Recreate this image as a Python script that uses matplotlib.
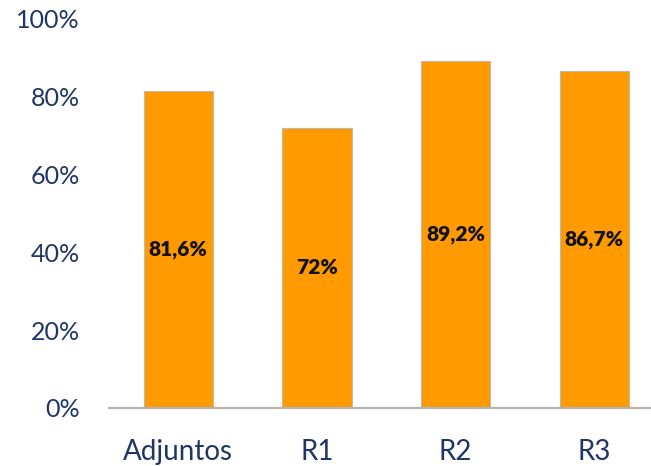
import matplotlib

matplotlib.use("Agg")
import matplotlib.pyplot as plt

categories = ["Adjuntos", "R1", "R2", "R3"]
values = [81.6, 72.0, 89.2, 86.7]
value_labels = ["81,6%", "72%", "89,2%", "86,7%"]
y_ticks = [0, 20, 40, 60, 80, 100]

BAR_COLOR = "#ff9a00"
NAVY = "#1f3566"

plt.rcParams["font.family"] = ["Lato", "DejaVu Sans"]

fig = plt.figure(figsize=(6.51, 4.66), dpi=100)
ax = fig.add_axes([0.1674, 0.1245, 0.852, 0.8348])

x = range(len(categories))
ax.bar(x, values, width=0.5, color=BAR_COLOR, edgecolor="#c0b8a8", linewidth=0.8, zorder=2)

for xi, v, lab in zip(x, values, value_labels):
    ax.text(xi, v / 2, lab, ha="center", va="center", fontsize=15,
            fontweight="heavy", color="#111111", zorder=3)

ax.set_xlim(-0.5, 3.5)
ax.set_ylim(0, 100)
ax.set_yticks(y_ticks)
ax.set_yticklabels([f"{t}%" for t in y_ticks])
ax.set_xticks(list(x))
ax.set_xticklabels(categories)

ax.tick_params(axis="y", length=0, pad=21, labelsize=18, labelcolor=NAVY)
ax.tick_params(axis="x", length=0, pad=22, labelsize=20, labelcolor=NAVY)

for side in ("left", "top", "right"):
    ax.spines[side].set_visible(False)
ax.spines["bottom"].set_color("#b3b3b3")
ax.spines["bottom"].set_linewidth(1.6)

fig.savefig("out.png", dpi=100)
